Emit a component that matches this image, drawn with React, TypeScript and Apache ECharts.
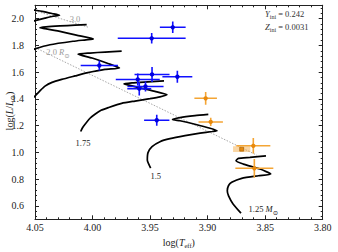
import React, { useEffect, useRef } from "react";
import * as echarts from "echarts";

const FONT = '"Liberation Serif", "DejaVu Serif", serif';

// axis ticks
const Y_TICKS = [0.6, 0.8, 1.0, 1.2, 1.4, 1.6, 1.8, 2.0];
const Y_MINOR = [0.52, 0.56, 0.64, 0.68, 0.72, 0.76, 0.84, 0.88, 0.92, 0.96, 1.04, 1.08, 1.12, 1.16, 1.24, 1.28, 1.32, 1.36, 1.44, 1.48, 1.52, 1.56, 1.64, 1.68, 1.72, 1.76, 1.84, 1.88, 1.92, 1.96, 2.04, 2.08];

// evolutionary tracks [logTeff, logL]
const TRACK_125 = [[3.8710, 0.5458], [3.8779, 0.6150], [3.8818, 0.6746], [3.8829, 0.7141], [3.8818, 0.7528], [3.8791, 0.7766], [3.8704, 0.8064], [3.8559, 0.8258], [3.8451, 0.8384], [3.8545, 0.8757], [3.8690, 0.9129], [3.8753, 0.9375], [3.8733, 0.9553], [3.8632, 0.9628], [3.8493, 0.9747]];
const TRACK_150 = [[3.9495, 0.8831], [3.9524, 0.9427], [3.9518, 0.9985], [3.9483, 1.0432], [3.9414, 1.0804], [3.9327, 1.1028], [3.9196, 1.1251], [3.9066, 1.1437], [3.8962, 1.1564], [3.8918, 1.1623], [3.8979, 1.1810], [3.9110, 1.2107], [3.9240, 1.2368], [3.9305, 1.2465], [3.9240, 1.2606], [3.9110, 1.2755], [3.8994, 1.2852]];
const TRACK_175 = [[4.0103, 1.1564], [4.0087, 1.1847], [4.0065, 1.2107], [4.0022, 1.2554], [3.9979, 1.2852], [3.9926, 1.3150], [3.9863, 1.3351], [3.9747, 1.3671], [3.9631, 1.3842], [3.9501, 1.4021], [3.9414, 1.4155], [3.9353, 1.4304], [3.9457, 1.4564], [3.9588, 1.4825], [3.9692, 1.5048], [3.9727, 1.5123], [3.9657, 1.5197], [3.9518, 1.5272], [3.9379, 1.5346]];
const TRACK_200 = [[4.0543, 1.3857], [4.0500, 1.4214], [4.0457, 1.4602], [4.0413, 1.4959], [4.0352, 1.5235], [4.0268, 1.5458], [4.0152, 1.5719], [4.0051, 1.5942], [3.9892, 1.6203], [3.9766, 1.6314], [3.9866, 1.6649], [4.0005, 1.7059], [4.0126, 1.7342], [4.0022, 1.7431], [3.9892, 1.7506], [3.9747, 1.7580]];
const TRACK_225 = [[4.0543, 1.7580], [4.0500, 1.7744], [4.0370, 1.8049], [4.0170, 1.8310], [4.0057, 1.8421], [3.9993, 1.8488], [4.0109, 1.8712], [4.0283, 1.9047], [4.0413, 1.9255], [4.0457, 1.9315], [4.0404, 1.9382], [4.0283, 1.9456], [4.0152, 1.9516], [4.0051, 1.9553]];
const TRACK_250 = [[4.0561, 1.9702], [4.0500, 1.9851], [4.0413, 2.0037], [4.0344, 2.0179], [4.0287, 2.0261], [4.0352, 2.0387], [4.0439, 2.0544], [4.0500, 2.0633], [4.0561, 2.0722]];

// iso-radius lines
const RADIUS_20 = [[4.05, 1.784], [3.8573, 0.9799]];
const RADIUS_30 = [[4.05, 2.0596], [4.0039, 1.9367]];

// observed stars [logTeff, logL, errTeff, errL, kind]
const BLUE_STARS = [
  [3.9303, 1.9352, 0.0112, 0.0432, 0],
  [3.9486, 1.8533, 0.0295, 0.0395, 0],
  [3.9941, 1.6500, 0.0162, 0.0372, 0],
  [3.9607, 1.5458, 0.0191, 0.0447, 0],
  [3.9483, 1.5830, 0.0152, 0.0558, 0],
  [3.9263, 1.5659, 0.0130, 0.0447, 0],
  [3.9594, 1.4765, 0.0104, 0.0500, 0],
  [3.9540, 1.4930, 0.0157, 0.0370, 0],
  [3.9442, 1.2405, 0.0110, 0.0410, 0],
];
const ORANGE_STARS = [
  [3.9017, 1.4043, 0.0098, 0.0470, 0],
  [3.8973, 1.2279, 0.0106, 0.0310, 0],
  [3.8704, 1.0246, 0.0075, 0.0220, 1],
  [3.8603, 1.0492, 0.0148, 0.0580, 0],
  [3.8594, 0.8809, 0.0165, 0.0707, 0],
];

// text annotations [logTeff, logL, text]
const GRAY_LABELS = [
  [4.0152, 2.0, "3.0"],
  [4.03, 1.749, "2.0 {i|R}{s|⊙}"],
];
const TRACK_LABELS = [
  [4.0083, 1.067, "1.75"],
  [3.9451, 0.8213, "1.5"],
  [3.8516, 0.5756, "1.25 {i|M}{s|⊙}"],
];

const RICH = {
  i: { fontStyle: "italic", fontFamily: FONT },
  s: { fontSize: 6.5, padding: [6, 0, 0, 0], fontFamily: FONT },
};

function makeErr(lineColor: string, markColor: string) {
  return (params: any, api: any) => {
    const x = api.value(0), y = api.value(1), xe = api.value(2), ye = api.value(3), kind = api.value(4);
    const c = api.coord([x, y]);
    const a = api.coord([x + xe, y]);
    const b = api.coord([x - xe, y]);
    const t = api.coord([x, y + ye]);
    const d = api.coord([x, y - ye]);
    const x0 = Math.min(a[0], b[0]), x1 = Math.max(a[0], b[0]);
    const y0 = Math.min(t[1], d[1]), y1 = Math.max(t[1], d[1]);
    const children: any[] = [];
    if (kind === 1) {
      children.push({ type: "rect", shape: { x: x0, y: y0, width: x1 - x0, height: y1 - y0 }, style: { fill: lineColor, opacity: 0.45 } });
      children.push({ type: "rect", shape: { x: c[0] - 2, y: c[1] - 2, width: 4, height: 4 }, style: { fill: markColor, stroke: "#9a5a00", lineWidth: 0.6 } });
    } else {
      children.push({ type: "line", shape: { x1: x0, y1: c[1], x2: x1, y2: c[1] }, style: { stroke: lineColor, lineWidth: 1.5 } });
      children.push({ type: "line", shape: { x1: c[0], y1: y0, x2: c[0], y2: y1 }, style: { stroke: lineColor, lineWidth: 1.6 } });
      children.push({ type: "circle", shape: { cx: c[0], cy: c[1], r: 2.2 }, style: { fill: markColor } });
    }
    return { type: "group", children };
  };
}

const axisLine = { show: true, lineStyle: { color: "#222", width: 1 } };

function yAxisBase(position: string, ticks: number[], len: number, extra: any = {}) {
  return {
    type: "value",
    min: 0.5,
    max: 2.1,
    position,
    axisLine: { ...axisLine },
    axisTick: { show: true, inside: true, length: len, customValues: ticks, lineStyle: { color: "#222", width: 1 } },
    axisLabel: { show: false },
    splitLine: { show: false },
    ...extra,
  };
}

function xAxisBase(position: string, extra: any = {}) {
  return {
    type: "value",
    min: 3.8,
    max: 4.05,
    interval: 0.05,
    inverse: true,
    position,
    axisLine: { ...axisLine },
    axisTick: { show: true, inside: true, length: 4, lineStyle: { color: "#222", width: 1 } },
    minorTick: { show: true, splitNumber: 5, length: 2, lineStyle: { color: "#222", width: 1 } },
    axisLabel: { show: false },
    splitLine: { show: false },
    minorSplitLine: { show: false },
    ...extra,
  };
}

export default function App() {
  const ref = useRef<HTMLDivElement>(null);
  useEffect(() => {
    if (!ref.current) return;
    const chart = echarts.init(ref.current, null, { renderer: "svg" });
    const trackSeries = [TRACK_125, TRACK_150, TRACK_175, TRACK_200, TRACK_225, TRACK_250].map((d) => ({
      type: "line",
      data: d,
      symbol: "none",
      smooth: 0.2,
      clip: true,
      silent: true,
      lineStyle: { color: "#000", width: 1.7 },
      z: 3,
    }));
    const radiusSeries = [RADIUS_20, RADIUS_30].map((d) => ({
      type: "line",
      data: d,
      symbol: "none",
      clip: true,
      silent: true,
      lineStyle: { color: "#a8a8a8", width: 1, type: [1.5, 1.5] },
      z: 2,
    }));
    const labelSeries = (arr: any[], color: string) => ({
      type: "scatter",
      data: arr.map((r) => ({ value: [r[0], r[1]], name: r[2] })),
      symbolSize: 1,
      itemStyle: { color: "rgba(0,0,0,0)" },
      silent: true,
      z: 6,
      label: {
        show: true,
        position: "inside",
        formatter: (p: any) => p.name,
        color,
        opacity: 1,
        fontFamily: FONT,
        fontSize: 8.5,
        rich: { i: { ...RICH.i, color }, s: { ...RICH.s, color } },
      },
    });
    chart.setOption({
      animation: false,
      backgroundColor: "#fff",
      grid: { left: 35, right: 15.3, top: 5.3, bottom: 32.7, containLabel: false, outerBoundsMode: "none" },
      xAxis: [
        xAxisBase("bottom", {
          axisLabel: { show: true, margin: 3, fontFamily: FONT, fontSize: 10, color: "#222", formatter: (v: number) => v.toFixed(2) },
          name: "log({i|T}{s|eff})",
          nameLocation: "middle",
          nameGap: 12,
          nameTextStyle: { fontFamily: FONT, fontSize: 10, color: "#222", rich: { i: { ...RICH.i, fontSize: 10, color: "#222" }, s: { ...RICH.s, color: "#222" } } },
        }),
        xAxisBase("top"),
      ],
      yAxis: [
        yAxisBase("left", Y_TICKS, 4, {
          axisLabel: { show: true, customValues: Y_TICKS, margin: 11, fontFamily: FONT, fontSize: 10, color: "#222", formatter: (v: number) => v.toFixed(1) },
        }),
        yAxisBase("right", Y_TICKS, 4),
        yAxisBase("left", Y_MINOR, 2),
        yAxisBase("right", Y_MINOR, 2),
      ],
      graphic: [
        {
          type: "text",
          x: 9,
          y: 111,
          rotation: Math.PI / 2,
          style: {
            text: "log({i|L}/{i|L}{s|⊙})",
            align: "center",
            verticalAlign: "middle",
            fontFamily: FONT,
            fontSize: 10,
            fill: "#222",
            rich: { i: { ...RICH.i, fontSize: 10 }, s: { ...RICH.s } },
          },
        },
        {
          type: "text",
          left: 265,
          top: 9,
          style: { text: "{i|Y}{s|ini} = 0.242", fontFamily: FONT, fontSize: 8.5, fill: "#333", rich: { i: { ...RICH.i, fontSize: 8.5 }, s: { ...RICH.s, fontSize: 6 } } },
        },
        {
          type: "text",
          left: 265,
          top: 22,
          style: { text: "{i|Z}{s|ini} = 0.0031", fontFamily: FONT, fontSize: 8.5, fill: "#333", rich: { i: { ...RICH.i, fontSize: 8.5 }, s: { ...RICH.s, fontSize: 6 } } },
        },
      ],
      series: [
        ...radiusSeries,
        ...trackSeries,
        { type: "custom", data: BLUE_STARS, renderItem: makeErr("#1010ff", "#0000e0"), clip: true, silent: true, z: 4 },
        { type: "custom", data: ORANGE_STARS, renderItem: makeErr("#f4a535", "#e8890c"), clip: true, silent: true, z: 5 },
        labelSeries(GRAY_LABELS, "#9a9a9a"),
        labelSeries(TRACK_LABELS, "#222"),
      ],
    });
    return () => chart.dispose();
  }, []);
  return <div ref={ref} style={{ position: "absolute", left: 0, top: 0, width: 338, height: 252 }} />;
}
